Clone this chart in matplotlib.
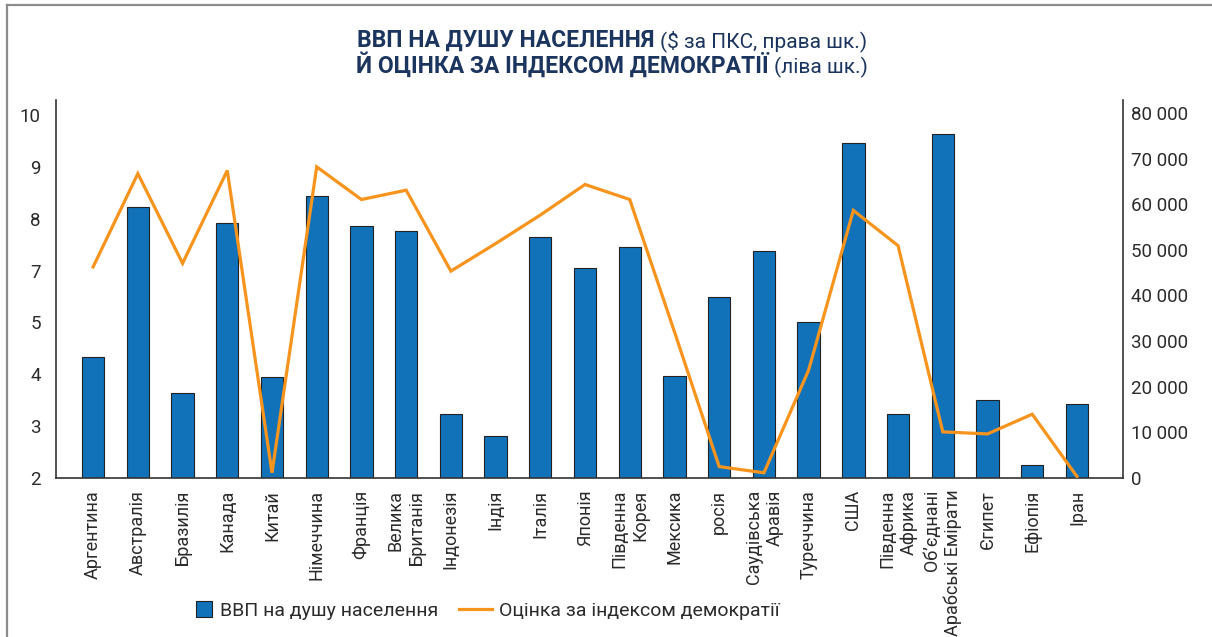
import numpy as np
import matplotlib
matplotlib.use("Agg")
import matplotlib.pyplot as plt
from matplotlib.patches import Rectangle, Patch
from matplotlib.lines import Line2D
from matplotlib.legend_handler import HandlerPatch
from matplotlib.ticker import FuncFormatter

countries = ["Аргентина", "Австралія", "Бразилія", "Канада", "Китай", "Німеччина",
             "Франція", "Велика\nБританія", "Індонезія", "Індія", "Італія", "Японія",
             "Південна\nКорея", "Мексика", "росія", "Саудівська\nАравія", "Туреччина",
             "США", "Південна\nАфрика", "Об’єднані\nАрабські Емірати", "Єгипет",
             "Ефіопія", "Іран"]
gdp = [26500, 59500, 18700, 55900, 22100, 61900, 55200, 54100, 14100, 9200, 52800,
       46100, 50600, 22400, 39600, 49700, 34300, 73500, 14100, 75500, 17000, 2800, 16300]
democracy = [7.07, 8.87, 7.14, 8.93, 2.10, 9.00, 8.37, 8.55, 6.98, 7.52, 8.07, 8.66,
             8.37, 4.82, 2.22, 2.10, 4.08, 8.16, 7.48, 2.89, 2.85, 3.23, 2.03]
left_ticks = [2, 3, 4, 5, 7, 8, 9, 10]
right_ticks = [0, 10000, 20000, 30000, 40000, 50000, 60000, 70000, 80000]
legend_labels = ["ВВП на душу населення", "Оцінка за індексом демократії"]
title_bold = ["ВВП НА ДУШУ НАСЕЛЕННЯ", "Й ОЦІНКА ЗА ІНДЕКСОМ ДЕМОКРАТІЇ"]
title_norm = ["($ за ПКС, права шк.)", "(ліва шк.)"]

BAR = "#1172BA"
LINE = "#F7941D"
TXT = "#2b2b2b"
NAVY = "#1c355e"
TF = ["Roboto", "DejaVu Sans"]

W, H = 1212, 637
fig = plt.figure(figsize=(W / 100, H / 100), dpi=100)
fig.patch.set_facecolor("white")

L, R, T, B = 56, 1123, 100, 478
ax = fig.add_axes([L / W, 1 - B / H, (R - L) / W, (B - T) / H])
x = np.arange(len(countries))
ax.bar(x, gdp, width=0.5, color=BAR, edgecolor="#222222", linewidth=0.8, zorder=2)
ax.set_xlim(-0.83, len(countries) - 1 + 1.03)
ax.set_ylim(0, 80000 * (B - T) / (B - 113))

# left axis: label-spaced scale (labels 2,3,4,5,7,8,9,10 equally spaced)
src = [1, 2, 3, 4, 5, 7, 8, 9, 10, 11]
dst = [-1, 0, 1, 2, 3, 4, 5, 6, 7, 8]
fwd = lambda v: np.interp(v, src, dst)
inv = lambda v: np.interp(v, dst, src)
ax2 = ax.twinx()
ax2.set_yscale("function", functions=(fwd, inv))
ax2.plot(x, democracy, color=LINE, linewidth=2.3, zorder=3, solid_joinstyle="miter")
top_idx = 7 * (B - T) / (B - 115)
ax2.set_ylim(2, float(inv(top_idx)))
ax2.yaxis.tick_left()
ax2.set_yticks(left_ticks)
ax2.set_yticklabels([str(v) for v in left_ticks], family=TF, fontsize=13.5, color=TXT)
ax2.yaxis.set_minor_locator(matplotlib.ticker.NullLocator())
ax2.tick_params(axis="y", which="both", length=0, pad=11)
for s in ["top", "right", "bottom"]:
    ax2.spines[s].set_visible(False)
ax2.spines["left"].set_color("#333333")
ax2.spines["left"].set_linewidth(1.2)

# right axis (bars)
ax.yaxis.tick_right()
ax.yaxis.set_label_position("right")
ax.set_yticks(right_ticks)
ax.yaxis.set_major_formatter(FuncFormatter(lambda v, p: f"{int(v):,}".replace(",", " ")))
ax.set_xticks(x)
ax.set_xticklabels(countries, rotation=90, ha="center", va="top", multialignment="right",
                   family=TF, fontsize=13, color=TXT)
for lab in ax.get_yticklabels():
    lab.set_family(TF)
    lab.set_fontsize(13.5)
    lab.set_color(TXT)
ax.tick_params(axis="x", length=0, pad=8.5)
ax.tick_params(axis="y", length=0, pad=6)
for s in ["top", "left"]:
    ax.spines[s].set_visible(False)
for s in ["bottom", "right"]:
    ax.spines[s].set_color("#333333")
    ax.spines[s].set_linewidth(1.2)

# title (two runs per line, centered as a whole)
tb, tn = [], []
for i, yb in enumerate([47, 73]):
    tb.append(fig.text(0, 1 - yb / H, title_bold[i], ha="left", va="baseline",
                       family=TF, fontweight="bold", fontsize=16.5, color=NAVY))
    tn.append(fig.text(0, 1 - yb / H, title_norm[i], ha="left", va="baseline",
                       family=TF, fontsize=15, color=NAVY))
fig.canvas.draw()
r = fig.canvas.get_renderer()
for i in range(2):
    wb = tb[i].get_window_extent(r).width
    wn = tn[i].get_window_extent(r).width
    gap = 6
    x0 = 612 - (wb + gap + wn) / 2
    tb[i].set_x(x0 / W)
    tn[i].set_x((x0 + wb + gap) / W)

# legend
def square(legend, orig_handle, xdescent, ydescent, width, height, fontsize):
    s = height * 1.15
    return Rectangle((-xdescent + width - s, -ydescent + (height - s) / 2), s, s)

h_bar = Patch(facecolor=BAR, edgecolor="#222222", linewidth=0.8)
h_line = Line2D([], [], color=LINE, linewidth=2.3)
fig.legend([h_bar, h_line], legend_labels, loc="center",
           bbox_to_anchor=(480 / W, 1 - 611 / H), ncol=2, frameon=False,
           prop={"family": TF, "size": 14}, handlelength=1.65, handletextpad=0.4,
           columnspacing=1.1, handler_map={Patch: HandlerPatch(patch_func=square)},
           labelcolor=TXT)

# frame lines
fig.add_artist(Line2D([7 / W, 1], [1 - 5 / H, 1 - 5 / H], transform=fig.transFigure,
                      color="#8c8c8c", linewidth=1.6))
fig.add_artist(Line2D([7 / W, 7 / W], [0, 1 - 5 / H], transform=fig.transFigure,
                      color="#8c8c8c", linewidth=1.6))

fig.savefig("out.png", dpi=100, facecolor="white")
